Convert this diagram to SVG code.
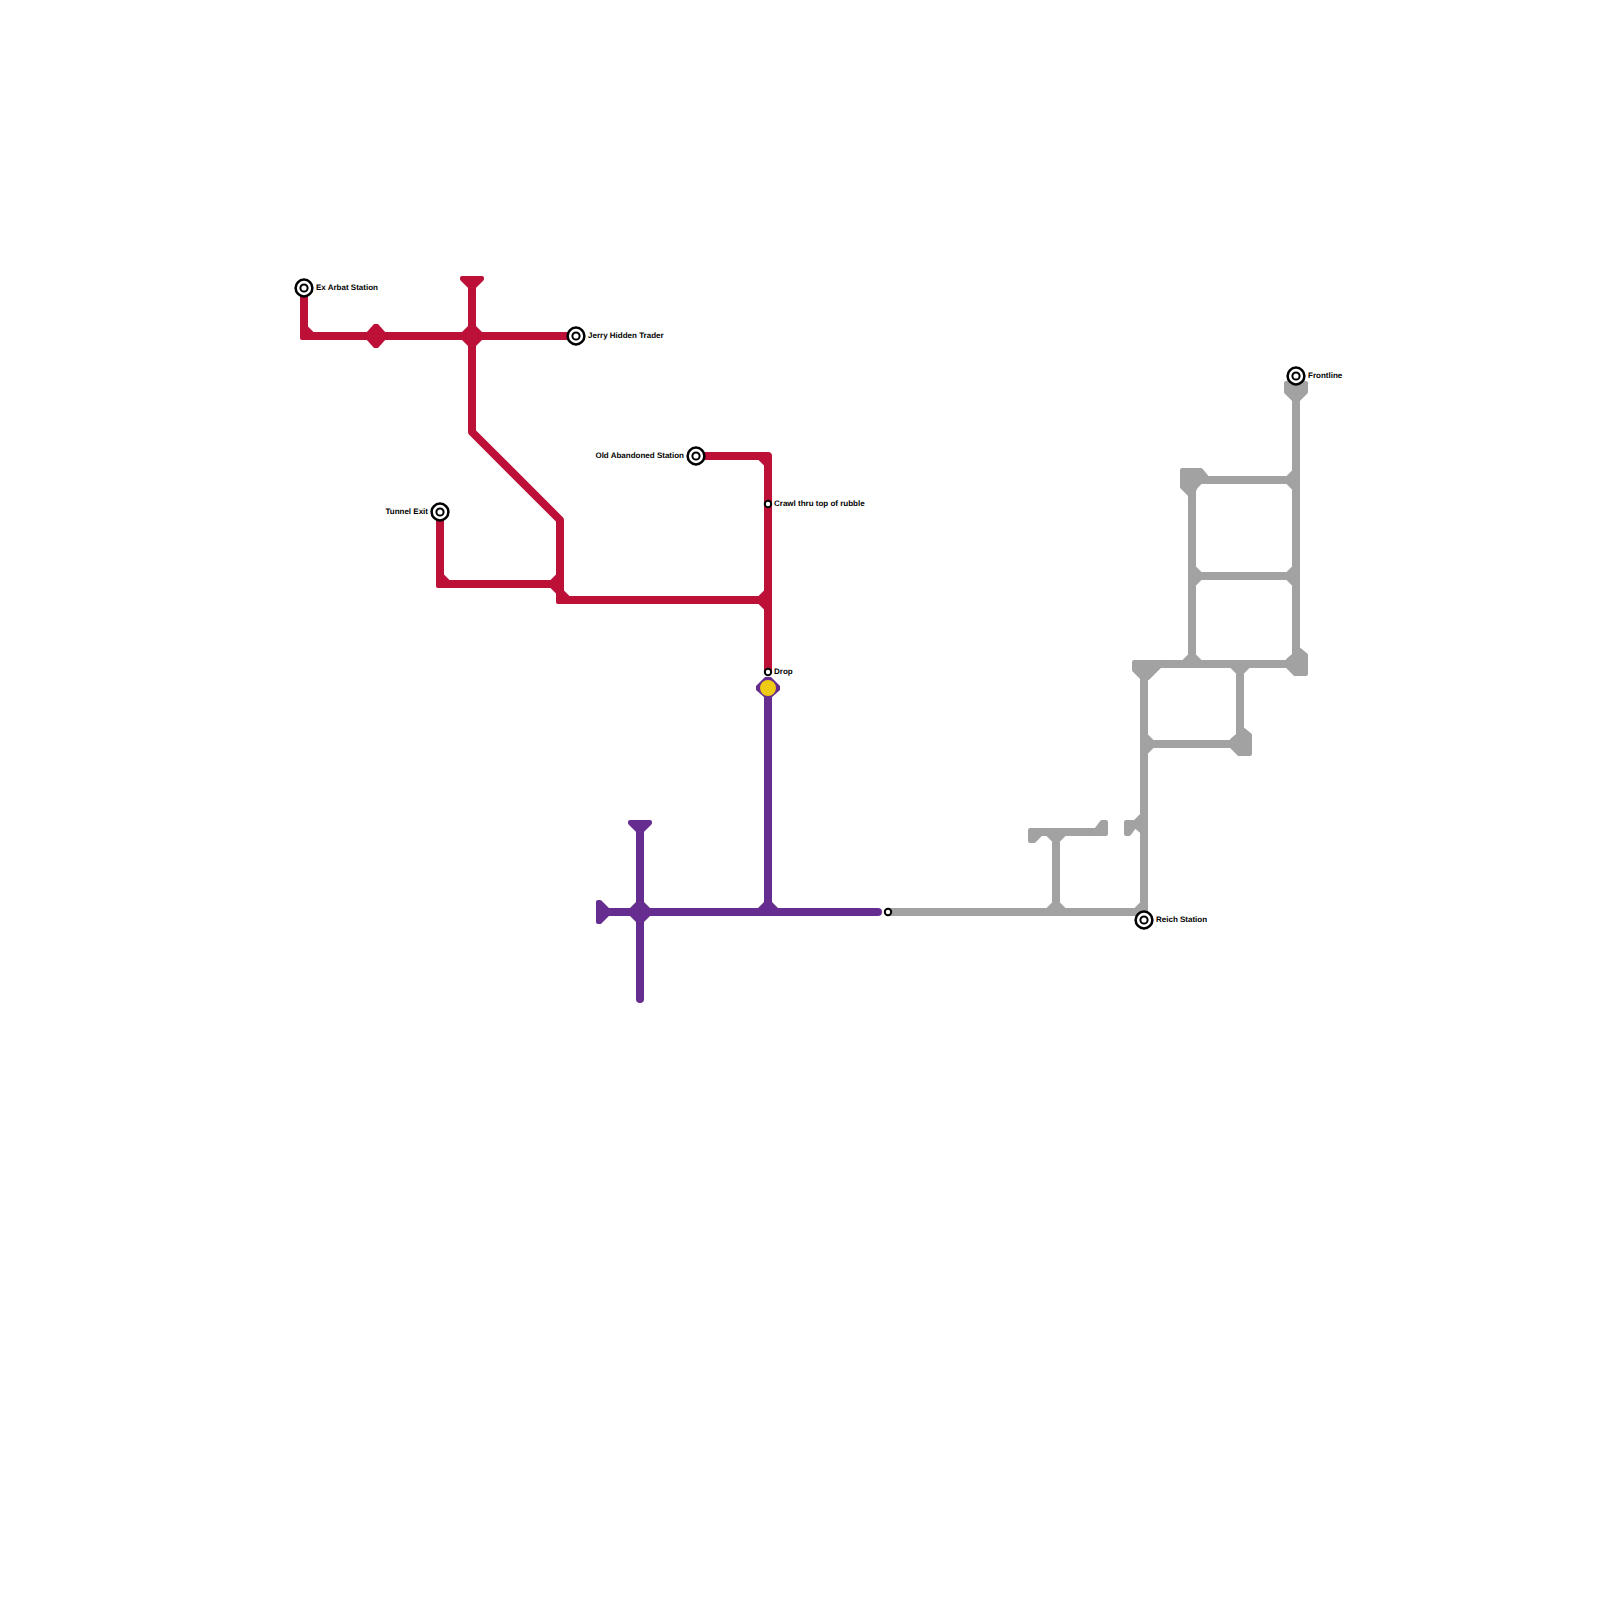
<svg xmlns="http://www.w3.org/2000/svg" width="1600" height="1600" viewBox="0 0 1600 1600">
<style>
.l{fill:none;stroke-width:8;stroke-linejoin:round}
.r{stroke:#bd1038}.p{stroke:#662c90}.g{stroke:#a2a2a2}
.rf{fill:#bd1038}.pf{fill:#662c90}.gf{fill:#a2a2a2}
.b{stroke-width:4;stroke-linejoin:round}
.rb{fill:#bd1038;stroke:#bd1038}.pb{fill:#662c90;stroke:#662c90}.gb{fill:#a2a2a2;stroke:#a2a2a2}
.o{fill:#fff;stroke:#000;stroke-width:2.500}
.i{fill:#fff;stroke:#000;stroke-width:2}
.s{fill:#fff;stroke:#000;stroke-width:2}
text{font-family:"Liberation Sans",Arial,sans-serif;font-weight:700;font-size:8px;fill:#000;text-rendering:geometricPrecision}
.e{text-anchor:end}
</style>
<g id="connectors">
<g id="red-line">
<polyline class="l r" points="304,288 304,336 576,336"/>
<polyline class="l r" points="472,284 472,432 560,520 560,600 768,600"/>
<polyline class="l r" points="440,512 440,584 560,584"/>
<polyline class="l r" points="696,456 768,456 768,672"/>
<rect class="rf" x="300" y="332" width="8" height="8" rx="2"/>
<rect class="rf" x="436" y="580" width="8" height="8" rx="2"/>
<rect class="rf" x="556" y="596" width="8" height="8" rx="2"/>
<rect class="rf" x="760" y="452" width="8" height="8" rx="2"/>
<path class="rf" d="M308,332v-5.500l5.500,5.500zM444,580v-5.500l5.500,5.500zM564,596v-5.500l5.500,5.500zM764,460v5.500l-5.500,-5.500zM556,580v-5.500l-5.500,5.500zM556,588v5.500l-5.500,-5.500zM764,596v-5.500l-5.500,5.500zM764,604v5.500l-5.500,-5.500z"/>
<polygon class="rf" points="374,324 378,324 386,333 386,339 378,348 374,348 366,339 366,333"/>
<polygon class="rf" points="469,325 475,325 483,333 483,339 475,347 469,347 461,339 461,333"/>
<polygon class="rb b" points="462,278 482,278 482,279 474,287 470,287 462,279"/>
</g>
<g id="purple-line">
<line class="l p" x1="600" y1="912" x2="878" y2="912" stroke-linecap="round"/>
<polyline class="l p" points="768,688 768,912"/>
<line class="l p" x1="640" y1="826" x2="640" y2="999" stroke-linecap="round"/>
<path class="pf" d="M764,908v-6l-6,6zM772,908v-6l6,6z"/>
<polygon class="pf" points="637,901 643,901 651,909 651,915 643,923 637,923 629,915 629,909"/>
<polygon class="pb b" points="598,902 600,902 607,909 607,915 600,922 598,922"/>
<polygon class="pb b" points="630,822 650,822 650,823 642,831 638,831 630,823"/>
<polygon class="pf" points="765,677 771,677 780,686 780,690 771,698 765,698 756,690 756,686"/>
<circle cx="768" cy="688" r="8" fill="#f0cb14"/>
</g>
<g id="gray-line">
<polyline class="l g" points="888,912 1144,912 1144,664 1296,664"/>
<line class="l g" x1="1296" y1="390" x2="1296" y2="664"/>
<polyline class="l g" points="1192,664 1192,480 1296,480"/>
<line class="l g" x1="1192" y1="576" x2="1296" y2="576"/>
<polyline class="l g" points="1240,664 1240,744 1144,744"/>
<polyline class="l g" points="1056,912 1056,832"/>
<line class="l g" x1="1032" y1="832" x2="1104" y2="832"/>
<rect class="gf" x="1140" y="908" width="8" height="8" rx="2"/>
<path class="gf" d="M1140,908v-5.500l-5.500,5.500zM1052,908v-5.500l-5.500,5.500zM1060,908v-5.500l5.500,5.500zM1052,836v5.500l-5.500,-5.500zM1060,836v5.500l5.500,-5.500zM1148,740v-5.500l5.500,5.500zM1148,748v5.500l5.500,-5.500zM1236,668v5.500l-5.500,-5.500zM1244,668v5.500l5.500,-5.500zM1188,660v-5.500l-5.500,5.500zM1196,660v-5.500l5.500,5.500zM1292,660v-5.500l-5.500,5.500zM1196,572v-5.500l5.500,5.500zM1196,580v5.500l5.500,-5.500zM1292,572v-5.500l-5.500,5.500zM1292,580v5.500l-5.500,-5.500zM1292,476v-5.500l-5.500,5.500zM1292,484v5.500l-5.500,-5.500zM1196,484v5.500l5.500,-5.500z"/>
<polygon class="gb b" points="1134,662 1160,662 1160,666 1148,678 1142,678 1134,670"/>
<polygon class="gb b" points="1182,470 1201,470 1206,476 1206,482 1197,482 1195,489 1190,495 1182,487"/>
<polygon class="gb b" points="1286,383 1306,383 1306,392 1298,400 1294,400 1286,392"/>
<polygon class="gb b" points="1300,650 1306,655 1306,674 1295,674 1288,667 1288,660"/>
<polygon class="gb b" points="1244,730 1250,735 1250,754 1239,754 1232,747 1232,740"/>
<polygon class="gb b" points="1030,830 1040,830 1040,835 1034,841 1030,841"/>
<polygon class="gb b" points="1096,830 1102,822 1106,822 1106,834 1096,834"/>
<polygon class="gb b" points="1126,822 1135,822 1141,816 1141,831 1135,826 1129,834 1126,834"/>
</g>
</g>
<g id="ex-arbat"><circle class="o" cx="304" cy="288" r="8.400"/><circle class="i" cx="304" cy="288" r="3.600"/><text x="316" y="290">Ex Arbat Station</text></g>
<g id="jerry"><circle class="o" cx="576" cy="336" r="8.400"/><circle class="i" cx="576" cy="336" r="3.600"/><text x="588" y="338">Jerry Hidden Trader</text></g>
<g id="old-abandoned"><circle class="o" cx="696" cy="456" r="8.400"/><circle class="i" cx="696" cy="456" r="3.600"/><text class="e" x="684" y="458">Old Abandoned Station</text></g>
<g id="tunnel-exit"><circle class="o" cx="440" cy="512" r="8.400"/><circle class="i" cx="440" cy="512" r="3.600"/><text class="e" x="428" y="514">Tunnel Exit</text></g>
<g id="crawl"><circle class="s" cx="768" cy="504" r="3.200"/><text x="774" y="506">Crawl thru top of rubble</text></g>
<g id="drop"><circle class="s" cx="768" cy="672" r="3.200"/><text x="774" y="674">Drop</text></g>
<g id="junction"><circle class="s" cx="888" cy="912" r="3.200"/></g>
<g id="reich"><circle class="o" cx="1144" cy="920" r="8.400"/><circle class="i" cx="1144" cy="920" r="3.600"/><text x="1156" y="922">Reich Station</text></g>
<g id="frontline"><circle class="o" cx="1296" cy="376" r="8.400"/><circle class="i" cx="1296" cy="376" r="3.600"/><text x="1308" y="378">Frontline</text></g>
</svg>
